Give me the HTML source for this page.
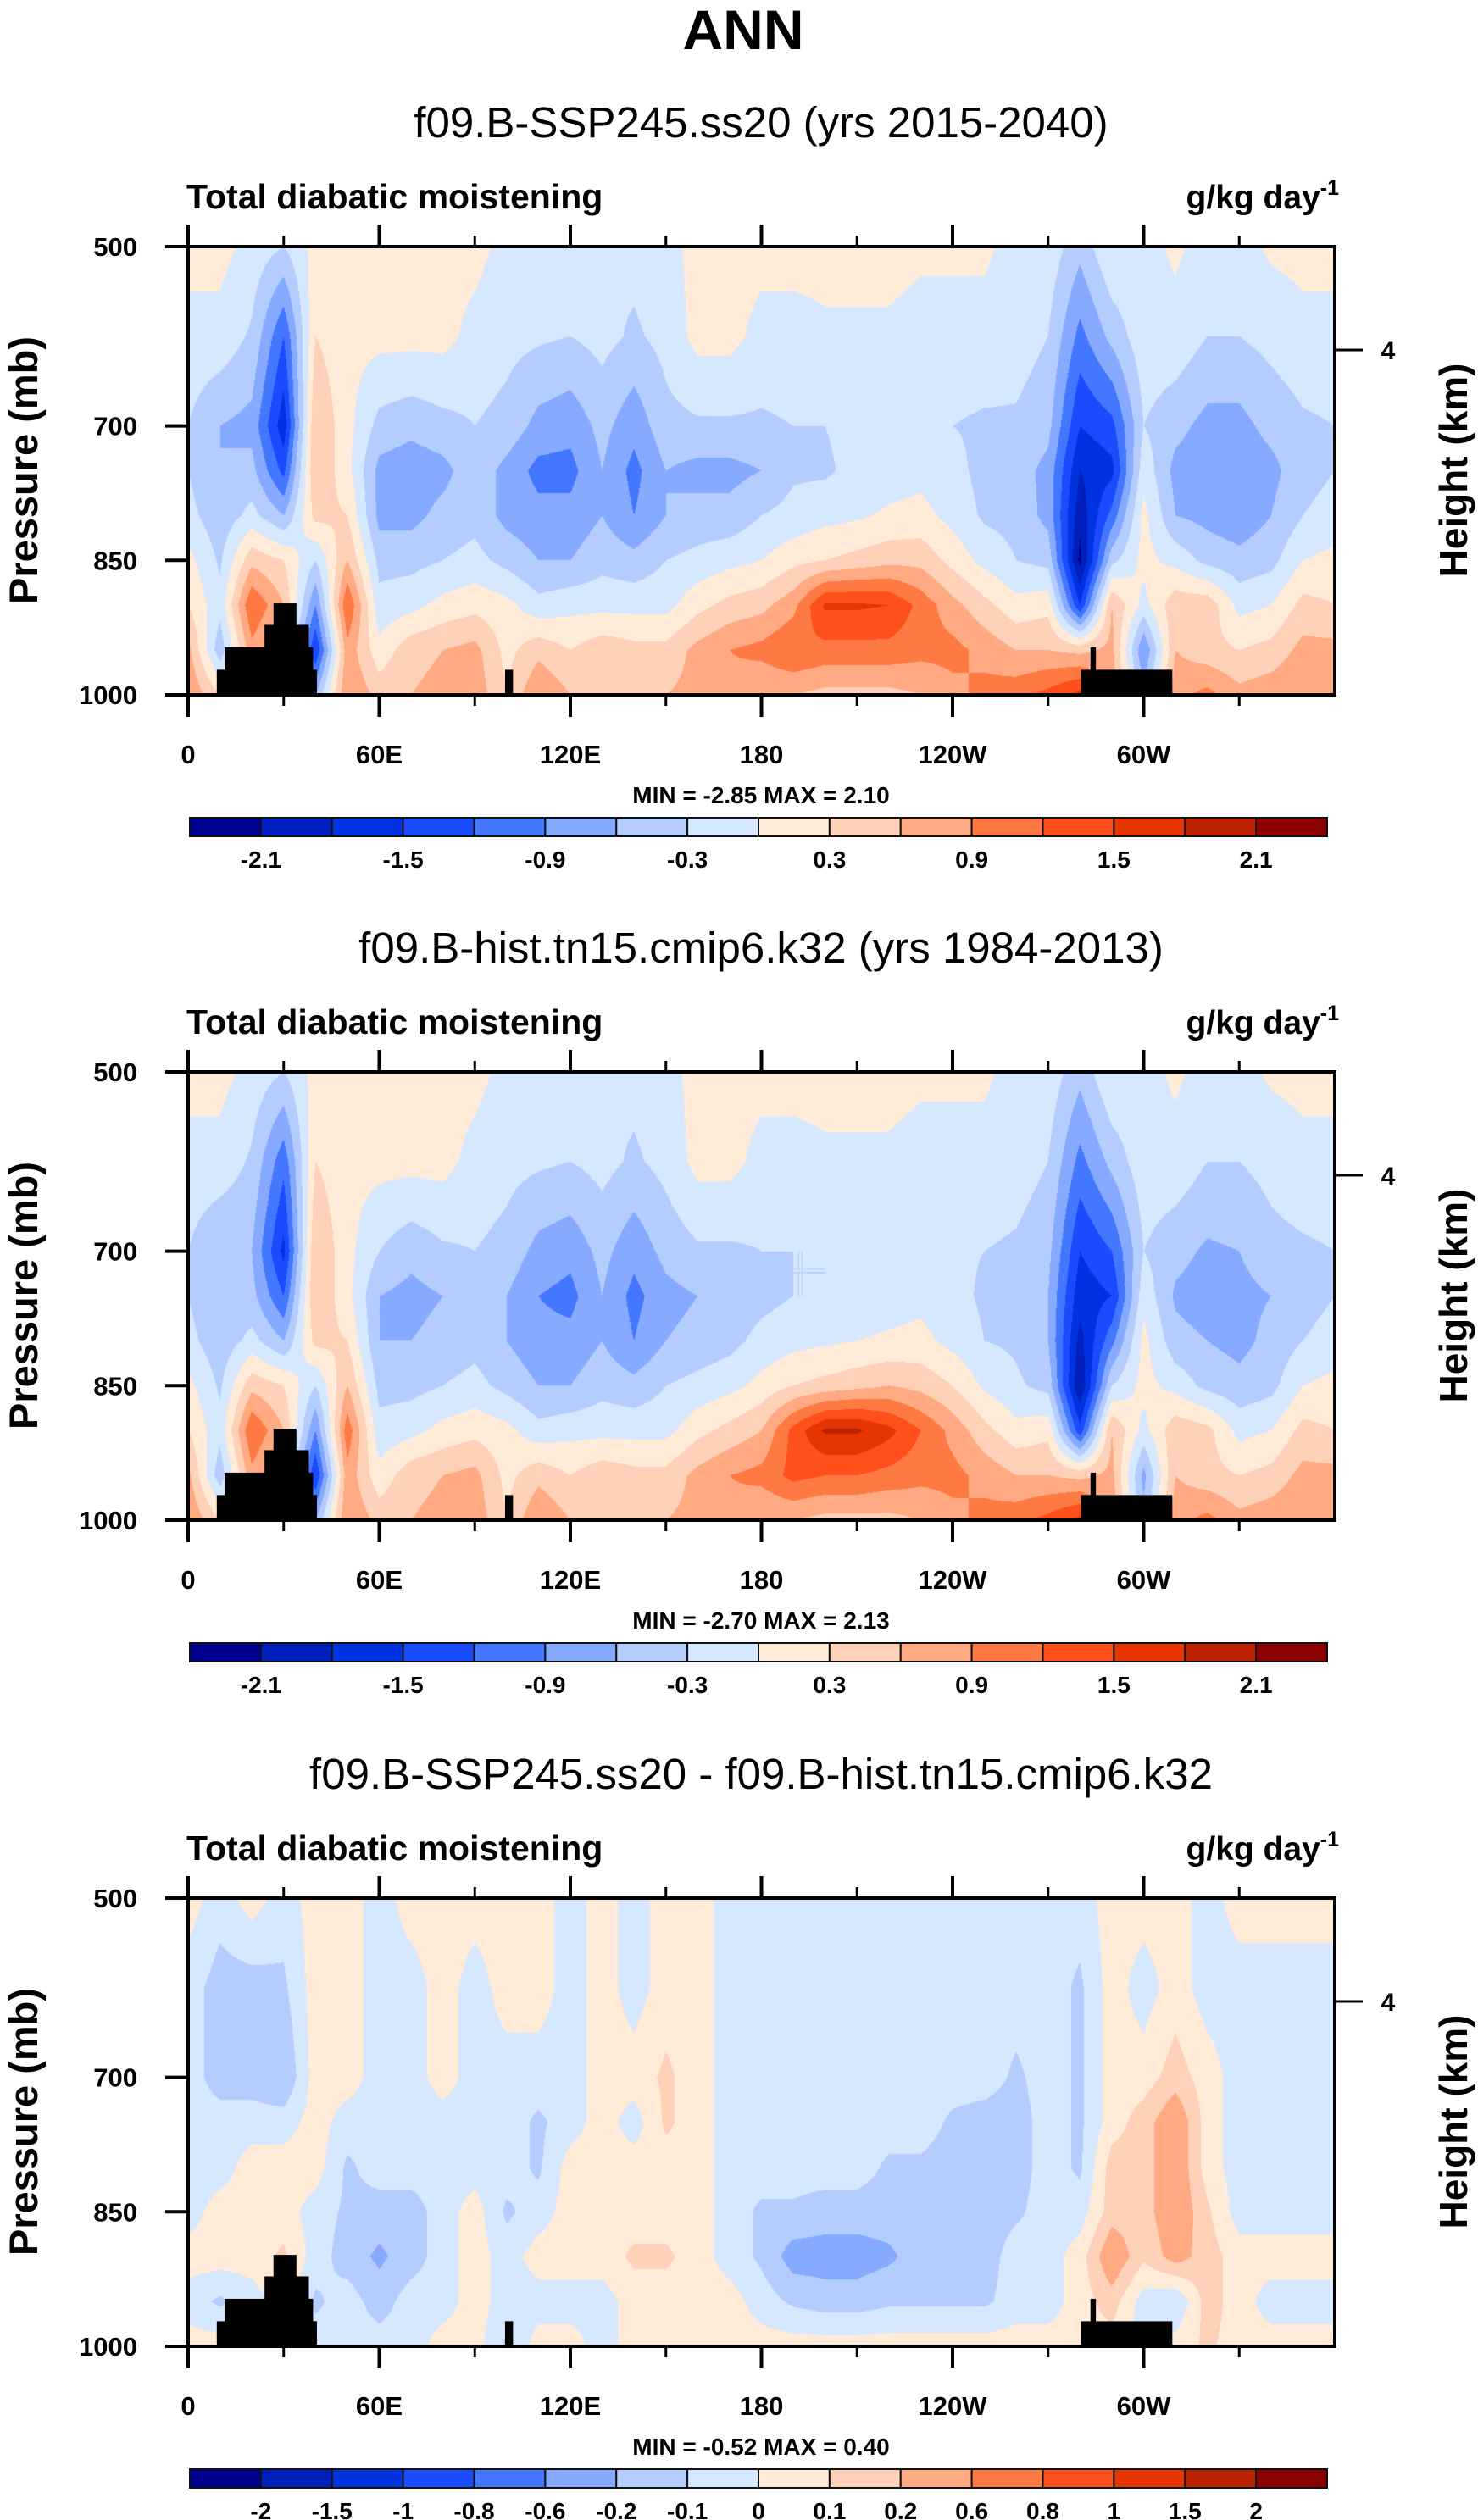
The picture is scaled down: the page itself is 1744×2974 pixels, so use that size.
<!DOCTYPE html>
<html><head><meta charset="utf-8">
<style>
html,body{margin:0;padding:0;background:#fff;}
#root{position:relative;width:1744px;height:2974px;overflow:hidden;background:#fff;}
canvas{position:absolute;}
svg{position:absolute;left:0;top:0;}
text{font-family:"Liberation Sans",sans-serif;}
</style></head>
<body>
<div id="root">
<canvas id="c1" width="1353" height="529" style="left:222px;top:291px"></canvas>
<canvas id="c2" width="1353" height="529" style="left:222px;top:1265px"></canvas>
<canvas id="c3" width="1353" height="529" style="left:222px;top:2240px"></canvas>
<svg id="svg" width="1744" height="2974">
<text x="877" y="58" text-anchor="middle" font-size="66" font-weight="bold">ANN</text>
</svg>
</div>
<script>
// ---------- data ----------
const lons = [0,10,20,30,40,50,60,70,80,90,100,110,120,130,140,150,160,170,180,190,200,210,220,230,240,250,260,270,280,290,300,310,320,330,340,350,360];
const levels = [500,600,700,750,800,850,900,950,1000];
const cbLevelsFull = [-2.1,-1.8,-1.5,-1.2,-0.9,-0.6,-0.3,0,0.3,0.6,0.9,1.2,1.5,1.8,2.1];
const cbLabelsFull = ["-2.1","","-1.5","","-0.9","","-0.3","","0.3","","0.9","","1.5","","2.1"];
const cbLevelsDiff = [-2,-1.5,-1,-0.8,-0.6,-0.2,-0.1,0,0.1,0.2,0.6,0.8,1,1.5,2];
const cbLabelsDiff = ["-2","-1.5","-1","-0.8","-0.6","-0.2","-0.1","0","0.1","0.2","0.6","0.8","1","1.5","2"];
const xTickLons = [0,60,120,180,240,300];
const xTickLabels = ["0","60E","120E","180","120W","60W"];
const yTickPs = [500,700,850,1000];
const yTickLabels = ["500","700","850","1000"];
// land blocks: [lonStart, lonEnd, surface pressure top]
const landLon0 = [9,11.5,24,26.8,34,37.9,39.2,99.5,280.3,283.3];
const landLon1 = [40.4,39.2,37.9,34,37.9,39.2,40.4,102,309,285];
const landTop  = [972,947,922,898,922,947,972,972,972,947];

// each row = one longitude, values at levels 500..1000
const field1 = [
[0.1,-0.1,-0.3,-0.3,-0.2,0.1,0.3,0.7,0.9],
[0.1,-0.1,-0.6,-0.6,-0.5,-0.35,-0.2,-0.5,0.3],
[-0.1,-0.35,-0.7,-0.5,-0.2,0.5,1.2,0.8,0.6],
[-0.3,-1.2,-1.7,-1.3,-0.6,0.3,0.6,0.3,0.3],
[0.1,0.3,0.6,0.6,0.4,-0.3,-0.9,-1.5,-0.6],
[0.1,0.1,0.1,0.1,0.3,0.6,1.2,0.8,0.9],
[0.1,0.1,-0.4,-0.7,-0.7,-0.4,-0.2,0.1,0.5],
[0.1,0.1,-0.5,-0.8,-0.7,-0.4,-0.1,0.5,0.6],
[0.1,0.1,-0.4,-0.7,-0.5,-0.3,0.1,0.6,0.7],
[0.1,-0.1,-0.3,-0.4,-0.4,-0.2,0.2,0.7,0.8],
[-0.1,-0.2,-0.4,-0.7,-0.7,-0.4,0.1,0.2,0.3],
[-0.1,-0.25,-0.7,-1.0,-0.8,-0.6,-0.2,0.5,0.9],
[-0.1,-0.3,-0.8,-1.0,-0.8,-0.6,-0.1,0.3,0.6],
[-0.3,-0.2,-0.5,-0.6,-0.6,-0.4,-0.1,0.5,0.6],
[-0.2,-0.35,-0.8,-1.0,-0.9,-0.5,-0.1,0.4,0.5],
[-0.1,-0.2,-0.4,-0.6,-0.6,-0.3,-0.1,0.4,0.6],
[0.1,0.1,-0.35,-0.7,-0.5,-0.2,0.2,0.7,0.7],
[0.1,0.1,-0.35,-0.7,-0.5,-0.1,0.4,0.9,0.8],
[0.1,-0.1,-0.35,-0.6,-0.3,0.0,0.5,1.0,0.6],
[0.1,-0.1,-0.3,-0.35,-0.2,0.2,0.8,1.2,0.6],
[0.1,-0.05,-0.3,-0.35,-0.1,0.3,1.55,1.1,0.5],
[0.1,-0.05,-0.2,-0.2,-0.05,0.4,1.55,1.1,0.5],
[0.1,-0.05,-0.1,-0.15,0.05,0.5,1.5,1.1,0.5],
[0.05,-0.1,-0.1,-0.1,0.1,0.5,1.1,1.0,0.6],
[0.05,-0.1,-0.3,-0.2,-0.1,0.2,0.7,1.0,0.8],
[0.05,-0.1,-0.35,-0.4,-0.35,-0.1,0.4,0.8,1.0],
[-0.1,-0.15,-0.35,-0.45,-0.4,-0.3,0.1,0.6,1.1],
[-0.1,-0.3,-0.5,-0.7,-0.7,-0.4,0.2,0.6,1.3],
[-0.5,-1.0,-1.5,-1.8,-2.0,-2.2,-1.5,0.5,1.6],
[0.0,-0.5,-1.3,-1.6,-1.1,-0.4,0.6,0.7,0.8],
[-0.1,-0.1,-0.3,-0.1,0.1,0.1,-0.1,-0.9,-0.5],
[0.05,-0.1,-0.5,-0.7,-0.6,-0.1,0.5,0.6,0.8],
[-0.1,-0.3,-0.7,-0.8,-0.7,-0.4,0.5,0.4,1.0],
[-0.1,-0.3,-0.7,-0.8,-0.8,-0.5,-0.1,0.3,0.7],
[0.05,-0.2,-0.5,-0.7,-0.6,-0.4,0.0,0.4,0.8],
[0.1,-0.1,-0.35,-0.4,-0.3,0.0,0.4,0.7,0.9],
[0.1,-0.1,-0.3,-0.3,-0.2,0.1,0.3,0.7,0.9]
];
const field2 = [
[0.1,-0.1,-0.3,-0.3,-0.2,0.1,0.3,0.7,0.9],
[0.1,-0.1,-0.6,-0.6,-0.5,-0.35,-0.2,-0.5,0.3],
[-0.1,-0.35,-0.6,-0.5,-0.2,0.5,1.2,0.8,0.6],
[-0.3,-1.1,-1.6,-1.2,-0.6,0.3,0.6,0.3,0.3],
[0.1,0.3,0.6,0.6,0.4,-0.3,-0.9,-1.5,-0.6],
[0.1,0.1,0.1,0.1,0.3,0.6,1.1,0.8,0.9],
[0.1,0.1,-0.3,-0.6,-0.6,-0.4,-0.2,0.1,0.5],
[0.1,0.1,-0.5,-0.7,-0.6,-0.4,-0.1,0.5,0.6],
[0.1,0.1,-0.35,-0.6,-0.5,-0.3,0.1,0.6,0.7],
[0.1,-0.1,-0.3,-0.4,-0.4,-0.2,0.2,0.7,0.8],
[-0.1,-0.2,-0.4,-0.6,-0.6,-0.4,0.1,0.2,0.3],
[-0.1,-0.25,-0.7,-0.9,-0.8,-0.6,-0.2,0.5,0.9],
[-0.1,-0.3,-0.8,-1.0,-0.8,-0.6,-0.1,0.3,0.6],
[-0.3,-0.2,-0.5,-0.6,-0.6,-0.4,-0.1,0.5,0.6],
[-0.2,-0.35,-0.8,-1.0,-0.9,-0.5,-0.1,0.4,0.5],
[-0.1,-0.2,-0.5,-0.7,-0.6,-0.3,-0.1,0.4,0.6],
[0.1,0.1,-0.35,-0.6,-0.5,-0.2,0.2,0.7,0.7],
[0.1,0.1,-0.35,-0.5,-0.4,-0.1,0.4,0.9,0.8],
[0.1,-0.1,-0.3,-0.4,-0.2,0.1,0.6,1.0,0.6],
[0.1,-0.1,-0.3,-0.3,-0.1,0.3,1.3,1.3,0.6],
[0.1,-0.05,-0.3,-0.3,-0.05,0.4,1.85,1.2,0.5],
[0.1,-0.05,-0.2,-0.2,0.0,0.5,1.85,1.2,0.5],
[0.1,-0.05,-0.1,-0.15,0.05,0.6,1.6,1.1,0.5],
[0.05,-0.1,-0.1,-0.1,0.1,0.5,1.2,1.0,0.6],
[0.05,-0.1,-0.25,-0.2,-0.1,0.3,0.8,1.0,0.8],
[0.05,-0.1,-0.3,-0.35,-0.3,-0.05,0.4,0.8,1.0],
[-0.1,-0.15,-0.35,-0.4,-0.35,-0.25,0.1,0.6,1.1],
[-0.1,-0.3,-0.5,-0.6,-0.6,-0.4,0.2,0.6,1.3],
[-0.5,-1.0,-1.5,-1.7,-1.9,-2.1,-1.4,0.5,1.6],
[0.0,-0.5,-1.2,-1.5,-1.0,-0.3,0.6,0.7,0.8],
[-0.1,-0.1,-0.3,-0.1,0.1,0.1,-0.1,-0.7,-0.5],
[0.05,-0.1,-0.5,-0.65,-0.5,-0.1,0.5,0.6,0.8],
[-0.1,-0.3,-0.65,-0.75,-0.6,-0.4,0.4,0.4,1.0],
[-0.1,-0.3,-0.6,-0.7,-0.7,-0.5,-0.1,0.3,0.7],
[0.05,-0.2,-0.4,-0.6,-0.5,-0.4,0.0,0.4,0.8],
[0.1,-0.1,-0.35,-0.4,-0.3,0.0,0.4,0.7,0.9],
[0.1,-0.1,-0.3,-0.3,-0.2,0.1,0.3,0.7,0.9]
];
const field3 = [
[0.05,-0.05,-0.05,-0.05,-0.05,-0.05,0.05,-0.05,0.05],
[-0.05,-0.15,-0.15,-0.05,-0.05,0.05,0.05,-0.12,0.05],
[0.05,-0.15,-0.15,-0.05,0.05,0.05,0.05,-0.05,-0.05],
[-0.05,-0.12,-0.2,-0.05,0.05,0.05,0.12,0.05,0],
[0.05,0.05,0.05,0.05,0.05,-0.05,-0.05,-0.12,-0.05],
[0.05,0.05,0.05,-0.05,-0.12,-0.12,-0.15,-0.05,-0.05],
[-0.05,-0.05,-0.05,-0.05,-0.05,-0.15,-0.22,-0.15,-0.05],
[0.05,-0.05,-0.05,-0.05,-0.05,-0.15,-0.15,-0.05,-0.05],
[0.05,0.05,0.05,-0.05,-0.05,-0.05,-0.05,-0.05,0.05],
[0.05,-0.05,-0.05,-0.05,-0.05,0.05,0.05,0.05,0.05],
[0.05,0.05,-0.05,-0.05,-0.05,-0.12,-0.05,-0.05,-0.12],
[0.05,0.05,-0.05,-0.12,-0.12,-0.05,0.05,-0.05,0.05],
[-0.05,-0.05,-0.05,-0.05,0.05,0.05,0.05,-0.05,0.05],
[0.05,0.05,0.05,0.05,0.05,0.05,0.05,-0.05,-0.05],
[-0.05,-0.05,0.05,-0.05,0.05,0.05,0.12,0.05,0.05],
[0.05,0.05,0.12,0.12,0.05,0.05,0.12,0.05,0.05],
[0.05,0.05,0.05,0.05,0.05,0.05,0.05,0.05,0.05],
[-0.05,-0.05,-0.05,-0.05,-0.05,-0.05,-0.05,0.05,0.05],
[-0.05,-0.05,-0.05,-0.05,-0.05,-0.12,-0.12,-0.05,0.05],
[-0.05,-0.05,-0.05,-0.05,-0.05,-0.12,-0.25,-0.12,0.05],
[-0.05,-0.05,-0.05,-0.05,-0.05,-0.15,-0.25,-0.15,0.05],
[-0.05,-0.05,-0.05,-0.05,-0.05,-0.15,-0.25,-0.15,0.05],
[-0.05,-0.05,-0.05,-0.05,-0.12,-0.15,-0.22,-0.12,0.05],
[-0.05,-0.05,-0.05,-0.05,-0.12,-0.15,-0.15,-0.12,0.05],
[-0.05,-0.05,-0.05,-0.12,-0.15,-0.15,-0.15,-0.12,0.05],
[-0.05,-0.05,-0.05,-0.15,-0.15,-0.15,-0.15,-0.12,0.05],
[-0.05,-0.05,-0.12,-0.15,-0.15,-0.12,-0.05,-0.05,0.05],
[-0.05,-0.05,-0.05,-0.05,-0.05,-0.05,-0.05,-0.05,0.05],
[-0.05,-0.12,-0.12,-0.12,-0.12,-0.05,0.05,0.05,0.05],
[0.05,0.05,0.05,0.05,0.15,0.15,0.3,0.15,0.05],
[0.05,-0.05,0.05,0.15,0.15,0.15,0.12,-0.05,-0.05],
[0.05,0.05,0.15,0.3,0.3,0.3,0.25,-0.1,0.05],
[-0.05,-0.05,0.05,0.05,0.05,0.12,0.15,0.15,0.12],
[0.05,-0.05,-0.05,-0.05,-0.05,-0.05,0.05,0.05,0.05],
[0.05,-0.05,-0.05,-0.05,-0.05,-0.05,0.05,-0.05,0.05],
[0.05,-0.05,-0.05,-0.05,-0.05,-0.05,0.05,-0.05,0.05],
[0.05,-0.05,-0.05,-0.05,-0.05,-0.05,0.05,-0.05,0.05]
];
const palette = ["#00008f","#0020bc","#0033e0","#1a4cff","#4477ff","#85aaff","#b5ccff","#d5e8ff","#ffebd8","#ffd1b8","#ffaa82","#ff7942","#ff4f1a","#e63500","#bb2200","#8b0000"];

// ---------- layout ----------
const PX0 = 222, PW = 1353, PH = 529;
const panelTops = [291, 1265, 2240];
const subtitles = ["f09.B-SSP245.ss20 (yrs 2015-2040)","f09.B-hist.tn15.cmip6.k32 (yrs 1984-2013)","f09.B-SSP245.ss20 - f09.B-hist.tn15.cmip6.k32"];
const minmax = ["MIN = -2.85   MAX =   2.10","MIN = -2.70   MAX =   2.13","MIN = -0.52   MAX =   0.40"];
const cbLabs = [cbLabelsFull, cbLabelsFull, cbLabelsDiff];

function xScale(lon){ return PX0 + lon/360*PW; }
function yScale(p, top){ return top + (p-500)/500*PH; }
function hex(c){ return [parseInt(c.substr(1,2),16),parseInt(c.substr(3,2),16),parseInt(c.substr(5,2),16)]; }
const pal = palette.map(hex);

function sample(field, lon, p){
  let i = Math.min(Math.floor(lon/10), lons.length-2);
  let fx = (lon - lons[i])/(lons[i+1]-lons[i]);
  let j = 0; while (j < levels.length-2 && p > levels[j+1]) j++;
  let fy = (p - levels[j])/(levels[j+1]-levels[j]);
  fy = Math.max(0, Math.min(1, fy));
  const a = field[i][j], b = field[i+1][j], c = field[i][j+1], d = field[i+1][j+1];
  return (a*(1-fx)+b*fx)*(1-fy) + (c*(1-fx)+d*fx)*fy;
}
function colorIndex(v, levs){ let k=0; while(k<levs.length && v>=levs[k]) k++; return k; }

function drawField(id, field, levs){
  const cv = document.getElementById(id), ctx = cv.getContext('2d');
  const img = ctx.createImageData(PW, PH);
  for (let y=0;y<PH;y++){
    const p = 500 + (y+0.5)/PH*500;
    for (let x=0;x<PW;x++){
      const lon = (x+0.5)/PW*360;
      const col = pal[colorIndex(sample(field, lon, p), levs)];
      const o = (y*PW+x)*4;
      img.data[o]=col[0]; img.data[o+1]=col[1]; img.data[o+2]=col[2]; img.data[o+3]=255;
    }
  }
  ctx.putImageData(img,0,0);
}
drawField('c1', field1, cbLevelsFull);
drawField('c2', field2, cbLevelsFull);
drawField('c3', field3, cbLevelsDiff);

const NS = "http://www.w3.org/2000/svg";
const svg = document.getElementById('svg');
function mk(tag, attrs, parent){ const e=document.createElementNS(NS,tag); for(const k in attrs) e.setAttribute(k, attrs[k]); (parent||svg).appendChild(e); return e; }

for (let k=0;k<3;k++){
  const top = panelTops[k];
  const g = mk('g', {});
  
  
  for (let b=0;b<landTop.length;b++){
    const r = mk('rect', {x:xScale(landLon0[b]), y:yScale(landTop[b],top), width:xScale(landLon1[b])-xScale(landLon0[b]), height:yScale(1000,top)-yScale(landTop[b],top), fill:'#000'}, g);
    
    
  }
  const st = mk('text', {x:898, y:top-129, 'text-anchor':'middle', 'font-size':51}, g);
  st.textContent = subtitles[k];
  
  
  const lt = mk('text', {x:PX0-2, y:top-45, 'font-size':41, 'font-weight':'bold'}, g);
  lt.textContent = 'Total diabatic moistening';
  
  
  const ut = mk('text', {x:1580, y:top-45, 'text-anchor':'end', 'font-size':39, 'font-weight':'bold'}, g);
  ut.innerHTML = 'g/kg day<tspan font-size="25" dy="-16">-1</tspan>';
  
  
  const fr = mk('rect', {x:PX0, y:top, width:PW, height:PH, fill:'none', stroke:'#000', 'stroke-width':4}, g);
  
  
  for (let lon=0; lon<360; lon+=30){
    const major = lon%60===0, len = major?26:13, x = xScale(lon);
    mk('line', {x1:x, x2:x, y1:top+PH, y2:top+PH+len, stroke:'#000','stroke-width':major?4:3}, g);
    mk('line', {x1:x, x2:x, y1:top, y2:top-len, stroke:'#000','stroke-width':major?4:3}, g);
  }
  for (let t=0;t<xTickLons.length;t++){
    const tx = mk('text', {x:xScale(xTickLons[t]), y:top+PH+81, 'text-anchor':'middle','font-size':31,'font-weight':'bold'}, g);
    tx.textContent = xTickLabels[t];
    
    
  }
  for (let t=0;t<yTickPs.length;t++){
    const y = yScale(yTickPs[t], top);
    mk('line', {x1:PX0-27, x2:PX0, y1:y, y2:y, stroke:'#000','stroke-width':4}, g);
    const ty = mk('text', {x:PX0-60, y:y+11, 'text-anchor':'end','font-size':31,'font-weight':'bold'}, g);
    ty.textContent = yTickLabels[t];
    
    
  }
  mk('line', {x1:PX0+PW, x2:PX0+PW+33, y1:top+122, y2:top+122, stroke:'#000','stroke-width':3}, g);
  const h4 = mk('text', {x:1638, y:top+133, 'text-anchor':'middle','font-size':30,'font-weight':'bold'}, g);
  h4.textContent = '4';
  
  
  const ya = mk('text', {x:0,y:0,'text-anchor':'middle','font-size':47,'font-weight':'bold', transform:'translate(44,'+(top+264)+') rotate(-90)'}, g);
  ya.textContent = 'Pressure (mb)';
  
  
  const ha = mk('text', {x:0,y:0,'text-anchor':'middle','font-size':46,'font-weight':'bold', transform:'translate(1731,'+(top+264)+') rotate(-90)'}, g);
  ha.textContent = 'Height (km)';
  
  
  const mm = mk('text', {x:898, y:top+657, 'text-anchor':'middle','font-size':28,'font-weight':'bold','xml:space':'preserve'}, g);
  mm.textContent = minmax[k];
  
  
  const cb = mk('g', {}, g);
  
  
  const cbx0 = 224, cbx1 = 1566, cby = top+674, cbh = 22, bw = (cbx1-cbx0)/16;
  for (let b=0;b<16;b++){
    const r = mk('rect', {x:cbx0+b*bw, y:cby, width:bw, height:cbh, fill:palette[b], stroke:'#111','stroke-width':2}, cb);
    
    
  }
  const labs = cbLabs[k];
  for (let b=0;b<labs.length;b++){
    if (!labs[b]) continue;
    const lt2 = mk('text', {x:cbx0+(b+1)*bw, y:cby+59, 'text-anchor':'middle','font-size':28,'font-weight':'bold'}, cb);
    lt2.textContent = labs[b];
    
    
  }
}
</script>
</body></html>
